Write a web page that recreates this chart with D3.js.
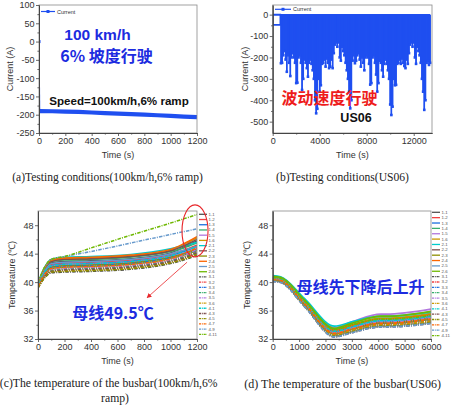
<!DOCTYPE html>
<html><head><meta charset="utf-8">
<script src="https://cdn.jsdelivr.net/npm/d3@7"></script>
<style>body{margin:0;background:#fff}svg{display:block}</style>
</head><body><svg id="chart" width="452" height="407" font-family="'Liberation Sans', Arial, sans-serif"></svg>
<script>
// ---------- DATA ----------
// (a) 100 km/h, 6% ramp
const aTime = [0, 5, 100, 200, 300, 400, 500, 600, 700, 800, 900, 1000, 1100, 1200];
const aCurrent = [0, -190, -190.5, -191.5, -192.5, -194, -195.5, -197, -198.5, -200, -201.5, -203, -205, -206.5];
const aXTicks = [0, 200, 400, 600, 800, 1000, 1200];
const aYTicks = [100, 50, 0, -50, -100, -150, -200, -250];

// (b) US06: idle start, then per-100 s minimum current (A) from 700 s to 13400 s
const bIdleTime = [0, 650, 650, 0, 0];
const bIdleCurrent = [0, 0, -48, -48, 0];
const bStart = 700, bStep = 100;
const bMinCurrent = [
 -227,-225,-190,-170,-210,-267,-190,-225,-287,-200,-180,-200,-225,-320,-318,-200,-190,-225,-352,-300,
 -210,-225,-250,-290,-225,-210,-230,-260,-300,-400,-461,-440,-300,-360,-330,-230,-225,-210,-243,-205,
 -225,-250,-243,-210,-250,-180,-140,-130,-150,-130,-200,-215,-150,-170,-190,-225,-260,-300,-360,-438,
 -400,-215,-190,-227,-215,-190,-180,-210,-243,-200,-225,-260,-200,-190,-200,-230,-327,-320,-200,-190,
 -225,-280,-360,-320,-215,-225,-260,-290,-230,-210,-230,-260,-300,-420,-469,-430,-300,-330,-328,-230,
 -225,-210,-230,-205,-225,-240,-250,-210,-230,-180,-140,-130,-150,-130,-200,-230,-150,-170,-190,-225,
 -300,-360,-445,-400,-225,-215,-235,-225];
const bXTicks = [0, 4000, 8000, 12000];
const bYTicks = [0, -100, -200, -300, -400, -500];

// (c), (d) busbar temperatures
const seriesNames = ['1-1','1-2','1-3','1-4','1-5','1-6','2-1','2-2','2-3','2-4','2-5','2-6',
                     '3-1','3-2','3-3','3-4','3-5','3-6','4-1','4-3','4-5','4-7','4-9','4-11'];
const palette = ['#515151','#F14040','#1A6FDF','#37AD6B','#B177DE','#CC9900','#00CBCC','#7D4E4E','#8E8E00','#FB6501','#6699CC','#6FB802'];

const cTime = [0, 50, 100, 200, 400, 700, 1000, 1100, 1200];
const cTemps = [
 [39.6,41.6,42.7,42.9,43.0,43.3,44.1,44.9,45.8],
 [39.5,41.5,42.5,42.7,42.8,43.1,43.9,44.5,45.2],
 [39.4,41.3,42.3,42.5,42.6,42.9,43.7,44.3,45.0],
 [39.7,41.8,42.9,43.1,43.2,43.5,44.3,44.8,45.5],
 [39.4,41.3,42.2,42.4,42.5,42.8,43.6,44.1,44.8],
 [39.8,42.0,43.0,43.3,43.4,43.7,44.5,45.3,46.2],
 [39.9,42.1,43.2,43.5,43.6,43.9,44.7,45.1,45.6],
 [39.7,41.9,42.9,43.2,43.3,43.6,44.4,45.1,46.0],
 [39.3,41.2,42.1,42.3,42.4,42.7,43.5,44.0,44.6],
 [39.8,42.0,43.1,43.4,43.5,43.8,44.6,45.4,46.4],
 [39.5,41.5,42.6,42.8,42.9,43.2,44.0,44.5,45.0],
 [39.3,41.0,41.9,42.1,42.2,42.5,43.3,43.8,44.4],
 [39.2,40.6,41.3,41.4,41.5,41.8,42.6,43.1,43.8],
 [39.3,40.9,41.7,41.9,42.0,42.3,43.1,43.6,44.3],
 [39.4,41.1,42.0,42.2,42.3,42.6,43.4,43.9,44.5],
 [39.2,40.8,41.6,41.8,41.9,42.2,43.0,43.5,44.2],
 [39.3,41.0,41.8,42.0,42.1,42.4,43.2,43.8,44.6],
 [39.2,40.7,41.5,41.6,41.7,42.0,42.8,43.3,44.0],
 [39.6,41.4,42.3,42.5,42.6,42.9,43.7,44.3,45.0],
 [39.2,40.8,41.5,41.7,41.8,42.1,42.9,43.4,44.1],
 [39.2,40.6,41.4,41.5,41.6,41.9,42.7,43.2,43.9],
 [39.4,41.1,41.9,42.1,42.2,42.5,43.3,44.0,44.8],
 [39.8,42.0,43.2,43.6,44.3,45.5,46.7,47.1,47.5],
 [39.9,42.1,43.2,43.6,44.8,46.6,48.3,48.9,49.5]];
const cXTicks = [0, 200, 400, 600, 800, 1000, 1200];
const tYTicks = [32, 36, 40, 44, 48];

const dTime = [0, 300, 1200, 2350, 3000, 4100, 4300, 6000];
const dTemps = [
 [40.6,40.45,37.3,33.2,33.8,34.7,34.7,35.3],
 [40.5,40.35,37.1,33.0,33.6,34.4,34.4,35.0],
 [40.4,40.25,37.0,32.8,33.4,34.2,34.2,34.8],
 [40.7,40.55,37.4,33.3,34.0,34.9,34.9,35.5],
 [40.8,40.65,37.5,33.6,34.4,35.5,35.5,36.2],
 [40.6,40.45,37.2,33.1,33.9,34.9,34.9,35.6],
 [40.9,40.75,37.7,33.8,34.4,35.2,35.2,35.8],
 [40.5,40.35,37.1,33.0,33.6,34.5,34.5,35.1],
 [40.3,40.15,36.9,32.7,33.4,34.3,34.3,34.9],
 [40.6,40.45,37.3,33.2,33.9,34.8,34.8,35.4],
 [40.4,40.25,37.0,32.9,33.6,34.6,34.6,35.2],
 [40.8,40.65,37.5,33.5,34.2,35.2,35.2,35.9],
 [40.2,40.05,36.7,32.4,33.0,33.8,33.8,34.3],
 [40.3,40.15,36.8,32.6,33.2,34.0,34.0,34.6],
 [40.2,40.05,36.7,32.5,33.1,33.9,33.9,34.4],
 [40.4,40.25,36.9,32.7,33.3,34.1,34.1,34.7],
 [40.5,40.35,37.1,32.9,33.5,34.4,34.4,35.0],
 [40.3,40.15,36.8,32.6,33.2,34.0,34.0,34.5],
 [40.6,40.45,37.2,33.1,33.7,34.6,34.6,35.2],
 [40.1,39.95,36.6,32.3,32.9,33.7,33.7,34.2],
 [40.2,40.05,36.7,32.4,33.0,33.8,33.8,34.3],
 [40.4,40.25,37.0,32.8,33.4,34.2,34.2,34.8],
 [40.1,39.95,36.6,32.3,32.9,33.7,33.7,34.2],
 [40.7,40.55,37.4,33.4,34.0,34.8,34.8,35.3]];
const dXTicks = [0, 1000, 2000, 3000, 4000, 5000, 6000];

// ---------- DRAWING ----------
const svg = d3.select('#chart');
svg.append('rect').attr('width',452).attr('height',407).attr('fill','#fff');
const BLUE = '#1f4ff0';
const AXC = '#444';
const SANS = "'Liberation Sans', Arial, sans-serif";
const CJK = "'Noto Sans CJK SC', sans-serif";
const SERIF = "'Liberation Serif', 'Times New Roman', serif";
let clipId = 0;

function mids(t){ const r=[]; for(let i=0;i<t.length-1;i++) r.push((t[i]+t[i+1])/2); return r; }

function panel(o){
  const x = d3.scaleLinear().domain(o.xDomain).range([o.left,o.right]);
  const y = d3.scaleLinear().domain(o.yDomain).range([o.bottom,o.top]);
  const g = svg.append('g');
  const id = 'clip'+(clipId++);
  svg.append('clipPath').attr('id',id).append('rect')
    .attr('x',o.left).attr('y',o.top).attr('width',o.right-o.left).attr('height',o.bottom-o.top);
  const data = g.append('g').attr('clip-path',`url(#${id})`);
  const axes = g.append('g');
  axes.append('rect').attr('x',o.left).attr('y',o.top).attr('width',o.right-o.left).attr('height',o.bottom-o.top)
    .attr('fill','none').attr('stroke','#8a8a8a').attr('stroke-width',0.8);
  const xt = o.xTicks, yt = o.yTicks;
  axes.append('g').attr('transform',`translate(0,${o.bottom})`)
    .call(d3.axisBottom(x).tickValues(xt).tickSize(3).tickSizeOuter(0).tickPadding(1.5).tickFormat(d=>d));
  axes.append('g').attr('transform',`translate(0,${o.bottom})`)
    .call(d3.axisBottom(x).tickValues(mids(xt)).tickSize(1.6).tickSizeOuter(0).tickFormat(''));
  axes.append('g').attr('transform',`translate(${o.left},0)`)
    .call(d3.axisLeft(y).tickValues(yt).tickSize(3).tickSizeOuter(0).tickPadding(1.5).tickFormat(d=>d));
  axes.append('g').attr('transform',`translate(${o.left},0)`)
    .call(d3.axisLeft(y).tickValues(mids(yt)).tickSize(1.6).tickSizeOuter(0).tickFormat(''));
  axes.selectAll('.domain').attr('stroke',AXC).attr('stroke-width',0.9);
  axes.selectAll('.tick line').attr('stroke',AXC).attr('stroke-width',0.8);
  axes.selectAll('.tick text').attr('fill','#333').attr('font-size','9px').attr('font-family',SANS);
  axes.append('text').attr('x',(o.left+o.right)/2).attr('y',o.bottom+25).attr('text-anchor','middle')
    .attr('font-size','9px').attr('fill','#333').text(o.xTitle);
  axes.append('text').attr('transform',`translate(${o.yTitleX},${(o.top+o.bottom)/2}) rotate(-90)`)
    .attr('text-anchor','middle').attr('font-size','9px').attr('fill','#333').text(o.yTitle);
  return {x,y,data,g};
}

// ---- (a)
{
  const p = panel({left:39,right:197,top:5,bottom:133,xDomain:[0,1200],yDomain:[-250,100],
    xTicks:aXTicks,yTicks:aYTicks,xTitle:'Time (s)',yTitle:'Current (A)',yTitleX:13});
  p.data.append('path').attr('d',d3.line().x((d,i)=>p.x(aTime[i])).y(d=>p.y(d))(aCurrent.slice(0,2)))
    .attr('fill','none').attr('stroke',BLUE).attr('stroke-width',1.2);
  p.data.append('path').attr('d',d3.line().x((d,i)=>p.x(aTime[i+1])).y(d=>p.y(d))(aCurrent.slice(1)))
    .attr('fill','none').attr('stroke',BLUE).attr('stroke-width',4.2);
  p.data.append('rect').attr('x',p.x(aTime[0])-1.5).attr('y',p.y(aCurrent[0])-1.5).attr('width',3).attr('height',3).attr('fill',BLUE);
  p.g.append('line').attr('x1',41).attr('x2',55).attr('y1',11.5).attr('y2',11.5).attr('stroke',BLUE).attr('stroke-width',1.2);
  p.g.append('rect').attr('x',46.5).attr('y',10).attr('width',3).attr('height',3).attr('fill',BLUE);
  p.g.append('text').attr('x',57).attr('y',13.5).attr('font-size','5.5px').attr('fill','#333').text('Current');
  p.g.append('text').attr('x',97.5).attr('y',40).attr('text-anchor','middle').attr('font-size','15.5px')
    .attr('font-weight','bold').attr('fill','#1c2be0').text('100 km/h');
  p.g.append('text').attr('x',106.5).attr('y',61.5).attr('text-anchor','middle').attr('font-size','16px')
    .attr('font-weight','bold').attr('fill','#1c2be0').attr('font-family',CJK).text('6% 坡度行驶');
  p.g.append('text').attr('x',119).attr('y',104.8).attr('text-anchor','middle').attr('font-size','11.6px')
    .attr('font-weight','bold').attr('fill','#111').text('Speed=100km/h,6% ramp');
}

// ---- (b)
{
  const p = panel({left:272.7,right:432,top:5,bottom:133,xDomain:[0,13557],yDomain:[-553,45],
    xTicks:bXTicks,yTicks:bYTicks,xTitle:'Time (s)',yTitle:'Current (A)',yTitleX:248});
  const idle = d3.line().x((d,i)=>p.x(bIdleTime[i])).y(d=>p.y(d));
  p.data.append('path').attr('d',idle(bIdleCurrent)).attr('fill','none').attr('stroke',BLUE).attr('stroke-width',1.6);
  const bt = bMinCurrent.map((d,i)=>bStart+i*bStep);
  const area = d3.area().x((d,i)=>p.x(bt[i])).y0(p.y(0)).y1(d=>p.y(d)).curve(d3.curveStep);
  p.data.append('path').attr('d',area(bMinCurrent)).attr('fill',BLUE);
  p.data.selectAll('line.sp').data(bMinCurrent).join('line').attr('class','sp')
    .attr('x1',(d,i)=>p.x(bt[i])).attr('x2',(d,i)=>p.x(bt[i])).attr('y1',p.y(0)).attr('y2',d=>p.y(d))
    .attr('stroke',BLUE).attr('stroke-width',1.6);
  p.data.selectAll('rect.mk').data(bMinCurrent).join('rect').attr('class','mk')
    .attr('x',(d,i)=>p.x(bt[i])-1.3).attr('y',d=>p.y(d)-1.3).attr('width',2.6).attr('height',2.6).attr('fill',BLUE);
  p.data.append('line').attr('x1',p.x(0)).attr('x2',p.x(13400)).attr('y1',p.y(0)).attr('y2',p.y(0)).attr('stroke',BLUE).attr('stroke-width',1.5);
  p.g.append('line').attr('x1',275).attr('x2',291).attr('y1',9.3).attr('y2',9.3).attr('stroke',BLUE).attr('stroke-width',1.2);
  p.g.append('rect').attr('x',281.5).attr('y',7.8).attr('width',3).attr('height',3).attr('fill',BLUE);
  p.g.append('text').attr('x',293).attr('y',11.3).attr('font-size','5.5px').attr('fill','#333').text('Current');
  p.g.append('text').attr('x',329.5).attr('y',104).attr('text-anchor','middle').attr('font-size','16px')
    .attr('font-weight','bold').attr('fill','#ee1c1c').attr('font-family',CJK).text('波动速度行驶');
  p.g.append('text').attr('x',356).attr('y',121.5).attr('text-anchor','middle').attr('font-size','12.5px')
    .attr('font-weight','bold').attr('fill','#111').text('US06');
}

function legend(p, lx, ly0, dy){
  const lg = p.g.append('g');
  seriesNames.forEach((n,i)=>{
    const yy = ly0 + i*dy;
    lg.append('line').attr('x1',lx).attr('x2',lx+8).attr('y1',yy).attr('y2',yy)
      .attr('stroke',palette[i%12]).attr('stroke-width',1.3)
      .attr('stroke-dasharray', i<12 ? null : '2.2,0.8,0.8,0.8');
    lg.append('text').attr('x',lx+9.5).attr('y',yy+1.5).attr('font-size','4.3px').attr('fill','#555').text(n);
  });
}

// ---- (c)
{
  const p = panel({left:38,right:197,top:211,bottom:339,xDomain:[0,1200],yDomain:[32,50],
    xTicks:cXTicks,yTicks:tYTicks,xTitle:'Time (s)',yTitle:'Temperature (℃)',yTitleX:15});
  const line = d3.line().x((d,i)=>p.x(cTime[i])).y(d=>p.y(d)).curve(d3.curveMonotoneX);
  cTemps.forEach((s,i)=>{
    p.data.append('path').attr('d',line(s)).attr('fill','none').attr('stroke',palette[i%12])
      .attr('stroke-width',1.5).attr('stroke-dasharray', i<12 ? null : '3.5,1.2,1,1.2');
  });
  legend(p, 199, 214.3, 5.22);
  p.g.append('ellipse').attr('cx',p.x(1185)).attr('cy',p.y(47.2)).attr('rx',13).attr('ry',26)
    .attr('fill','none').attr('stroke','#e8262a').attr('stroke-width',1.1);
  const defs = svg.append('defs');
  defs.append('marker').attr('id','arr').attr('viewBox','0 0 10 10').attr('refX',9).attr('refY',5)
    .attr('markerWidth',6).attr('markerHeight',6).attr('orient','auto')
    .append('path').attr('d','M0,0 L10,5 L0,10 z').attr('fill','#e8262a');
  p.g.append('line').attr('x1',p.x(1125)).attr('y1',p.y(42.8)).attr('x2',p.x(823)).attr('y2',p.y(37.8))
    .attr('stroke','#e8262a').attr('stroke-width',0.8).attr('marker-end','url(#arr)');
  p.g.append('text').attr('x',113).attr('y',319).attr('text-anchor','middle').attr('font-size','16px')
    .attr('font-weight','bold').attr('fill','#1c2be0').attr('font-family',CJK).text('母线49.5℃');
}

// ---- (d)
{
  const p = panel({left:272.7,right:431,top:211,bottom:339,xDomain:[0,6000],yDomain:[32,50],
    xTicks:dXTicks,yTicks:tYTicks,xTitle:'Time (s)',yTitle:'Temperature (℃)',yTitleX:250});
  const line = d3.line().x((d,i)=>p.x(dTime[i])).y(d=>p.y(d)).curve(d3.curveMonotoneX);
  dTemps.forEach((s,i)=>{
    p.data.append('path').attr('d',line(s)).attr('fill','none').attr('stroke',palette[i%12])
      .attr('stroke-width',1.8).attr('stroke-dasharray', i<12 ? null : '3.5,1.2,1,1.2');
  });
  legend(p, 432, 212.3, 5.36);
  p.g.append('text').attr('x',360.5).attr('y',292.5).attr('text-anchor','middle').attr('font-size','16px')
    .attr('font-weight','bold').attr('fill','#1c2be0').attr('font-family',CJK).text('母线先下降后上升');
}

// ---- captions
const cap = (x,y,t,fs)=>svg.append('text').attr('x',x).attr('y',y).attr('text-anchor','middle')
  .attr('font-family',SERIF).attr('font-size',fs).attr('fill','#222').text(t);
cap(107.5,181,'(a)Testing conditions(100km/h,6% ramp)','11.5px');
cap(342.5,181,'(b)Testing conditions(US06)','11.6px');
cap(108.7,387,'(c)The temperature of the busbar(100km/h,6%','11.7px');
cap(115,402,'ramp)','11.7px');
cap(342.7,388,'(d) The temperature of the busbar(US06)','12px');
</script></body></html>
